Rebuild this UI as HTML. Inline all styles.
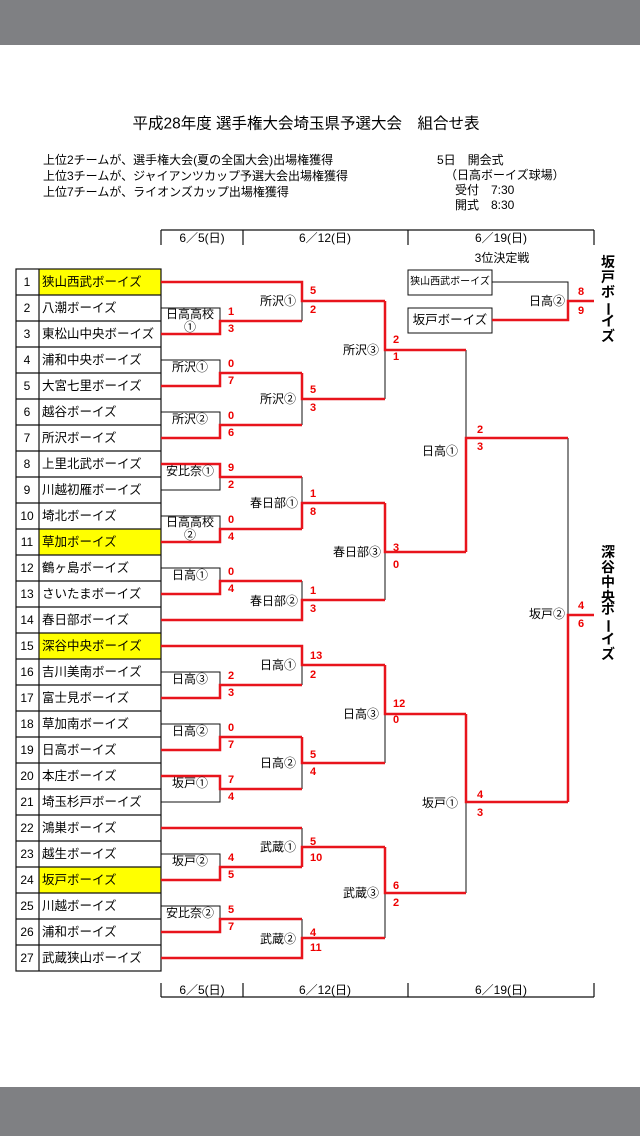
<!DOCTYPE html>
<html><head><meta charset="utf-8">
<style>
html,body{margin:0;padding:0;width:640px;height:1136px;background:#fff;overflow:hidden}
svg{display:block}
text{font-family:"Liberation Sans","Noto Sans CJK JP",sans-serif;fill:#000}
.s{fill:#e00;font-weight:bold;font-size:11px;dominant-baseline:central}
.l{font-size:12px;text-anchor:end;dominant-baseline:central}
.b{font-size:12px;text-anchor:middle;dominant-baseline:central}
.n{font-size:12px;text-anchor:middle;dominant-baseline:central}
.t{font-size:12.5px;dominant-baseline:central}
.r{fill:none;stroke:#e8141c;stroke-width:2.5}
.k{fill:none;stroke:#111;stroke-width:1}
</style></head><body>
<svg width="640" height="1136" viewBox="0 0 640 1136">
<rect x="0" y="0" width="640" height="45" fill="#7f8083"/>
<rect x="0" y="1087" width="640" height="49" fill="#7f8083"/>

<text x="306" y="124" style="font-size:15.5px;text-anchor:middle;dominant-baseline:central">平成28年度 選手権大会埼玉県予選大会　組合せ表</text>
<text x="43" y="160" style="font-size:12px;dominant-baseline:central">上位2チームが、選手権大会(夏の全国大会)出場権獲得</text>
<text x="43" y="176" style="font-size:12px;dominant-baseline:central">上位3チームが、ジャイアンツカップ予選大会出場権獲得</text>
<text x="43" y="192" style="font-size:12px;dominant-baseline:central">上位7チームが、ライオンズカップ出場権獲得</text>
<text x="437" y="160" style="font-size:12px;dominant-baseline:central">5日　開会式</text>
<text x="445" y="175" style="font-size:12px;dominant-baseline:central">（日高ボーイズ球場）</text>
<text x="455" y="190" style="font-size:12px;dominant-baseline:central">受付　7:30</text>
<text x="455" y="205" style="font-size:12px;dominant-baseline:central">開式　8:30</text>

<g class="k" style="stroke-width:1.2">
<path d="M161,230 H594 M161,230 V245 M243,230 V245 M408,230 V245 M594,230 V245"/>
<path d="M161,997 H594 M161,983 V997 M243,983 V997 M408,983 V997 M594,983 V997"/>
</g>
<g style="font-size:12px">
<text x="202" y="238" class="b">6／5(日)</text>
<text x="325" y="238" class="b">6／12(日)</text>
<text x="501" y="238" class="b">6／19(日)</text>
<text x="202" y="990" class="b">6／5(日)</text>
<text x="325" y="990" class="b">6／12(日)</text>
<text x="501" y="990" class="b">6／19(日)</text>
</g>
<text x="502" y="258" class="b">3位決定戦</text>

<g>
<rect x="39" y="269" width="122" height="26" fill="#ffff00"/>
<rect x="39" y="529" width="122" height="26" fill="#ffff00"/>
<rect x="39" y="633" width="122" height="26" fill="#ffff00"/>
<rect x="39" y="867" width="122" height="26" fill="#ffff00"/>
</g>
<g class="k" style="stroke-width:1.2">
<rect x="16" y="269" width="145" height="702"/>
<path d="M39,269 V971 M16,295H161 M16,321H161 M16,347H161 M16,373H161 M16,399H161 M16,425H161 M16,451H161 M16,477H161 M16,503H161 M16,529H161 M16,555H161 M16,581H161 M16,607H161 M16,633H161 M16,659H161 M16,685H161 M16,711H161 M16,737H161 M16,763H161 M16,789H161 M16,815H161 M16,841H161 M16,867H161 M16,893H161 M16,919H161 M16,945H161"/>
</g>
<g>
<text x="27" y="282" class="n">1</text><text x="42" y="282" class="t">狭山西武ボーイズ</text>
<text x="27" y="308" class="n">2</text><text x="42" y="308" class="t">八潮ボーイズ</text>
<text x="27" y="334" class="n">3</text><text x="42" y="334" class="t">東松山中央ボーイズ</text>
<text x="27" y="360" class="n">4</text><text x="42" y="360" class="t">浦和中央ボーイズ</text>
<text x="27" y="386" class="n">5</text><text x="42" y="386" class="t">大宮七里ボーイズ</text>
<text x="27" y="412" class="n">6</text><text x="42" y="412" class="t">越谷ボーイズ</text>
<text x="27" y="438" class="n">7</text><text x="42" y="438" class="t">所沢ボーイズ</text>
<text x="27" y="464" class="n">8</text><text x="42" y="464" class="t">上里北武ボーイズ</text>
<text x="27" y="490" class="n">9</text><text x="42" y="490" class="t">川越初雁ボーイズ</text>
<text x="27" y="516" class="n">10</text><text x="42" y="516" class="t">埼北ボーイズ</text>
<text x="27" y="542" class="n">11</text><text x="42" y="542" class="t">草加ボーイズ</text>
<text x="27" y="568" class="n">12</text><text x="42" y="568" class="t">鶴ヶ島ボーイズ</text>
<text x="27" y="594" class="n">13</text><text x="42" y="594" class="t">さいたまボーイズ</text>
<text x="27" y="620" class="n">14</text><text x="42" y="620" class="t">春日部ボーイズ</text>
<text x="27" y="646" class="n">15</text><text x="42" y="646" class="t">深谷中央ボーイズ</text>
<text x="27" y="672" class="n">16</text><text x="42" y="672" class="t">吉川美南ボーイズ</text>
<text x="27" y="698" class="n">17</text><text x="42" y="698" class="t">富士見ボーイズ</text>
<text x="27" y="724" class="n">18</text><text x="42" y="724" class="t">草加南ボーイズ</text>
<text x="27" y="750" class="n">19</text><text x="42" y="750" class="t">日高ボーイズ</text>
<text x="27" y="776" class="n">20</text><text x="42" y="776" class="t">本庄ボーイズ</text>
<text x="27" y="802" class="n">21</text><text x="42" y="802" class="t">埼玉杉戸ボーイズ</text>
<text x="27" y="828" class="n">22</text><text x="42" y="828" class="t">鴻巣ボーイズ</text>
<text x="27" y="854" class="n">23</text><text x="42" y="854" class="t">越生ボーイズ</text>
<text x="27" y="880" class="n">24</text><text x="42" y="880" class="t">坂戸ボーイズ</text>
<text x="27" y="906" class="n">25</text><text x="42" y="906" class="t">川越ボーイズ</text>
<text x="27" y="932" class="n">26</text><text x="42" y="932" class="t">浦和ボーイズ</text>
<text x="27" y="958" class="n">27</text><text x="42" y="958" class="t">武蔵狭山ボーイズ</text>
</g>

<g class="k">
<polyline points="161,308 220,308 220,321"/>
<polyline points="161,360 220,360 220,373"/>
<polyline points="161,412 220,412 220,425"/>
<polyline points="161,490 220,490 220,477"/>
<polyline points="161,516 220,516 220,529"/>
<polyline points="161,568 220,568 220,581"/>
<polyline points="161,672 220,672 220,685"/>
<polyline points="161,724 220,724 220,737"/>
<polyline points="161,802 220,802 220,789"/>
<polyline points="161,854 220,854 220,867"/>
<polyline points="161,906 220,906 220,919"/>
<path d="M302,321V301 M302,425V399 M302,477V503 M302,581V600 M302,685V665 M302,789V763 M302,828V847 M302,919V938"/>
<path d="M385,399V350 M385,600V552 M385,763V714 M385,938V893"/>
<path d="M466,350V438 M466,893V802 M568,438V615"/>
<polyline points="492,282 568,282 568,301"/>
<rect x="408" y="270" width="84" height="25"/>
<rect x="408" y="308" width="84" height="25"/>
</g>

<g class="r">
<polyline points="161,334 220,334 220,321 302,321"/>
<polyline points="161,386 220,386 220,373 302,373"/>
<polyline points="161,438 220,438 220,425 302,425"/>
<polyline points="161,464 220,464 220,477 302,477"/>
<polyline points="161,542 220,542 220,529 302,529"/>
<polyline points="161,594 220,594 220,581 302,581"/>
<polyline points="161,698 220,698 220,685 302,685"/>
<polyline points="161,750 220,750 220,737 302,737"/>
<polyline points="161,776 220,776 220,789 302,789"/>
<polyline points="161,880 220,880 220,867 302,867"/>
<polyline points="161,932 220,932 220,919 302,919"/>
<polyline points="161,282 302,282 302,301 385,301"/>
<polyline points="302,373 302,399 385,399"/>
<polyline points="302,529 302,503 385,503"/>
<polyline points="161,620 302,620 302,600 385,600"/>
<polyline points="161,646 302,646 302,665 385,665"/>
<polyline points="302,737 302,763 385,763"/>
<polyline points="161,828 302,828"/>
<polyline points="302,867 302,847 385,847"/>
<polyline points="161,958 302,958 302,938 385,938"/>
<polyline points="385,301 385,350 466,350"/>
<polyline points="385,503 385,552 466,552"/>
<polyline points="385,665 385,714 466,714"/>
<polyline points="385,847 385,893 466,893"/>
<polyline points="466,552 466,438 568,438"/>
<polyline points="466,714 466,802 568,802"/>
<polyline points="568,802 568,615 594,615"/>
<polyline points="492,320 568,320 568,301 594,301"/>
</g>

<g>
<text x="190" y="314" class="b">日高高校</text><text x="190" y="327" class="b">①</text>
<text x="190" y="367" class="b">所沢①</text>
<text x="190" y="419" class="b">所沢②</text>
<text x="190" y="471" class="b">安比奈①</text>
<text x="190" y="522" class="b">日高高校</text><text x="190" y="535" class="b">②</text>
<text x="190" y="575" class="b">日高①</text>
<text x="190" y="679" class="b">日高③</text>
<text x="190" y="731" class="b">日高②</text>
<text x="190" y="783" class="b">坂戸①</text>
<text x="190" y="861" class="b">坂戸②</text>
<text x="190" y="913" class="b">安比奈②</text>
</g>
<g>
<text x="296" y="301" class="l">所沢①</text>
<text x="296" y="399" class="l">所沢②</text>
<text x="298" y="503" class="l">春日部①</text>
<text x="298" y="601" class="l">春日部②</text>
<text x="296" y="665" class="l">日高①</text>
<text x="296" y="763" class="l">日高②</text>
<text x="296" y="847" class="l">武蔵①</text>
<text x="296" y="939" class="l">武蔵②</text>
<text x="379" y="350" class="l">所沢③</text>
<text x="381" y="552" class="l">春日部③</text>
<text x="379" y="714" class="l">日高③</text>
<text x="379" y="893" class="l">武蔵③</text>
<text x="458" y="451" class="l">日高①</text>
<text x="458" y="803" class="l">坂戸①</text>
<text x="565" y="614" class="l">坂戸②</text>
<text x="565" y="301" class="l">日高②</text>
<text x="450" y="282" style="font-size:10px;text-anchor:middle;dominant-baseline:central">狭山西武ボーイズ</text>
<text x="450" y="320" class="b" style="font-size:12.5px">坂戸ボーイズ</text>
</g>

<g>
<text x="228" y="312" class="s">1</text><text x="228" y="329" class="s">3</text>
<text x="228" y="364" class="s">0</text><text x="228" y="381" class="s">7</text>
<text x="228" y="416" class="s">0</text><text x="228" y="433" class="s">6</text>
<text x="228" y="468" class="s">9</text><text x="228" y="485" class="s">2</text>
<text x="228" y="520" class="s">0</text><text x="228" y="537" class="s">4</text>
<text x="228" y="572" class="s">0</text><text x="228" y="589" class="s">4</text>
<text x="228" y="676" class="s">2</text><text x="228" y="693" class="s">3</text>
<text x="228" y="728" class="s">0</text><text x="228" y="745" class="s">7</text>
<text x="228" y="780" class="s">7</text><text x="228" y="797" class="s">4</text>
<text x="228" y="858" class="s">4</text><text x="228" y="875" class="s">5</text>
<text x="228" y="910" class="s">5</text><text x="228" y="927" class="s">7</text>

<text x="310" y="291" class="s">5</text><text x="310" y="310" class="s">2</text>
<text x="310" y="390" class="s">5</text><text x="310" y="408" class="s">3</text>
<text x="310" y="494" class="s">1</text><text x="310" y="512" class="s">8</text>
<text x="310" y="591" class="s">1</text><text x="310" y="609" class="s">3</text>
<text x="310" y="656" class="s">13</text><text x="310" y="675" class="s">2</text>
<text x="310" y="755" class="s">5</text><text x="310" y="772" class="s">4</text>
<text x="310" y="842" class="s">5</text><text x="310" y="858" class="s">10</text>
<text x="310" y="933" class="s">4</text><text x="310" y="948" class="s">11</text>

<text x="393" y="340" class="s">2</text><text x="393" y="357" class="s">1</text>
<text x="393" y="548" class="s">3</text><text x="393" y="565" class="s">0</text>
<text x="393" y="704" class="s">12</text><text x="393" y="720" class="s">0</text>
<text x="393" y="886" class="s">6</text><text x="393" y="903" class="s">2</text>

<text x="477" y="430" class="s">2</text><text x="477" y="447" class="s">3</text>
<text x="477" y="795" class="s">4</text><text x="477" y="813" class="s">3</text>

<text x="578" y="606" class="s">4</text><text x="578" y="624" class="s">6</text>
<text x="578" y="292" class="s">8</text><text x="578" y="311" class="s">9</text>
</g>

<g style="font-size:14px;font-weight:bold;text-anchor:middle;dominant-baseline:central">
<text x="608" y="262">坂</text><text x="608" y="277">戸</text><text x="608" y="292">ボ</text>
<text transform="translate(608,309) rotate(90)" x="0" y="0">ー</text>
<text x="608" y="321">イ</text><text x="608" y="336">ズ</text>
<text x="608" y="552">深</text><text x="608" y="567">谷</text><text x="608" y="582">中</text><text x="608" y="597">央</text><text x="608" y="609">ボ</text>
<text transform="translate(608,626) rotate(90)" x="0" y="0">ー</text>
<text x="608" y="639">イ</text><text x="608" y="654">ズ</text>
</g>
</svg>
</body></html>
